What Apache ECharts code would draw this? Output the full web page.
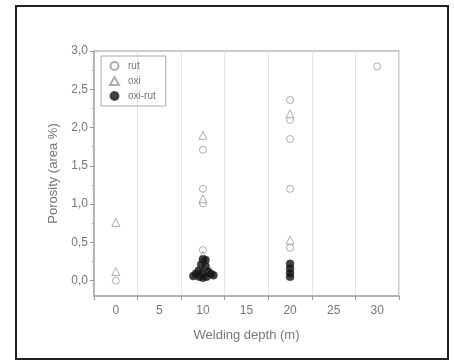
<!DOCTYPE html>
<html>
<head>
<meta charset="utf-8">
<script src="https://cdn.jsdelivr.net/npm/echarts@6/dist/echarts.min.js"></script>
<style>html,body{margin:0;padding:0;background:#fff;}#c{width:454px;height:363px;}</style>
</head>
<body>
<div id="c"></div>
<script>
const xCategories = ['0','5','10','15','20','25','30'];
const yTickValues = [0, 0.5, 1.0, 1.5, 2.0, 2.5, 3.0];
const yMinorTicks = [-0.25, 0.25, 0.75, 1.25, 1.75, 2.25, 2.75];
const rutData = [[0,0.0],[10,1.71],[10,1.20],[10,1.01],[10,0.40],[20,2.36],[20,2.10],[20,1.85],[20,1.20],[20,0.43],[30,2.80]];
const oxiData = [[0,0.76],[0,0.12],[10,1.90],[10,1.07],[10,0.33],[20,2.18],[20,0.53]];
const oxiRutData = [[10.0,0.28],[10.3,0.27],[9.8,0.21],[10.3,0.19],[9.5,0.13],[10.6,0.12],[9.2,0.09],[9.9,0.10],[10.9,0.09],[8.9,0.06],[11.2,0.07],[9.6,0.05],[10.4,0.05],[10.0,0.04],
  [20,0.22],[20,0.16],[20,0.10],[20,0.05]];

const grey = '#777';
const chart = echarts.init(document.getElementById('c'));
chart.setOption({
  animation: false,
  backgroundColor: '#fff',
  textStyle: {fontFamily: 'Liberation Sans'},
  graphic: [{type:'rect', shape:{x:16,y:6,width:432,height:353}, style:{fill:'none', stroke:'#222', lineWidth:2}, silent:true}],
  grid: {left:94, right:55, top:51, bottom:67, show:true, borderColor:'#bbb', borderWidth:1.5},
  legend: {
    orient:'vertical', left:101, top:56, itemGap:5, itemWidth:9, itemHeight:8,
    padding:[5,10,5,8], borderColor:'#aaa', borderWidth:1,
    textStyle:{color:grey, fontSize:10, padding:[0,0,0,4]},
    data:['rut','oxi','oxi-rut']
  },
  xAxis: [
    {type:'value', min:-2.5, max:32.5, show:false},
    {type:'category', data:xCategories, boundaryGap:true, position:'bottom',
     axisLine:{onZero:false, lineStyle:{color:'#aaa', width:1.5}},
     axisTick:{show:true, length:4, lineStyle:{color:'#999'}},
     axisLabel:{color:grey, fontSize:12, margin:9},
     splitLine:{show:true, lineStyle:{color:'#e6e6e6'}},
     name:'Welding depth (m)', nameLocation:'middle', nameGap:33,
     nameTextStyle:{color:grey, fontSize:13}}
  ],
  yAxis: [
    {type:'value', min:-0.2, max:3.0,
     axisLine:{show:true, onZero:false, lineStyle:{color:'#aaa', width:1.5}},
     axisTick:{show:true, length:4, customValues:yTickValues, lineStyle:{color:'#999'}},
     axisLabel:{color:grey, fontSize:12, margin:6, customValues:yTickValues,
       formatter: v => v.toFixed(1).replace('.', ',')},
     splitLine:{show:false},
     name:'Porosity (area %)', nameLocation:'middle', nameGap:34,
     nameTextStyle:{color:grey, fontSize:13}},
    {type:'value', min:-0.2, max:3.0, position:'left',
     axisLine:{show:false, onZero:false},
     axisTick:{show:true, length:2, customValues:yMinorTicks, lineStyle:{color:'#aaa'}},
     axisLabel:{show:false}, splitLine:{show:false}}
  ],
  series: [
    {name:'rut', type:'scatter', xAxisIndex:0, yAxisIndex:0, data:rutData, symbol:'circle', symbolSize:7,
     itemStyle:{color:'#fff', borderColor:'#999', borderWidth:1}},
    {name:'oxi', type:'scatter', xAxisIndex:0, yAxisIndex:0, data:oxiData, symbol:'triangle', symbolSize:8,
     itemStyle:{color:'#fff', borderColor:'#999', borderWidth:1}},
    {name:'oxi-rut', type:'scatter', xAxisIndex:0, yAxisIndex:0, data:oxiRutData, symbol:'circle', symbolSize:8,
     itemStyle:{color:'#111', borderColor:'#333', borderWidth:0.5}}
  ]
});
</script>
</body>
</html>
